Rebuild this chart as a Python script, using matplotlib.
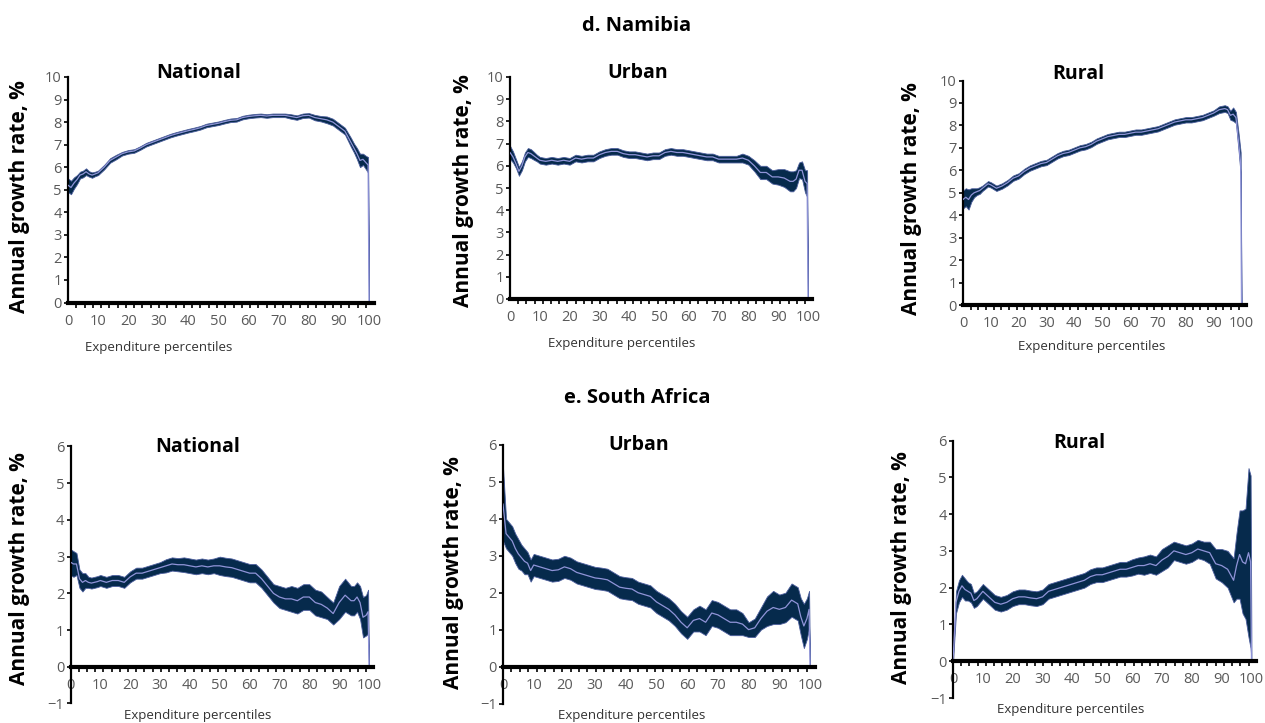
import matplotlib
matplotlib.use('Agg')
import matplotlib.pyplot as plt
import numpy as np
from matplotlib.ticker import MultipleLocator, FixedLocator

plt.rcParams['font.family'] = ['Open Sans', 'DejaVu Sans']

W, H = 1265, 723

# ---------------- data ----------------
PCT = [0, 1, 2, 3, 4, 5, 6, 7, 8, 9,
       10, 12, 14, 16, 18, 20, 22, 24, 26, 28,
       30, 32, 34, 36, 38, 40, 42, 44, 46, 48,
       50, 52, 54, 56, 58, 60, 62, 64, 66, 68,
       70, 72, 74, 76, 78, 80, 82, 84, 86, 88,
       90, 92, 94, 95, 96, 97, 98, 99, 99.7, 100]

# d. Namibia
na_nat_mean = [5.2, 5.1, 5.3, 5.45, 5.65, 5.7, 5.8, 5.7, 5.65, 5.7,
               5.75, 6.0, 6.3, 6.45, 6.6, 6.68, 6.72, 6.85, 7.0, 7.1,
               7.2, 7.3, 7.4, 7.48, 7.55, 7.62, 7.68, 7.75, 7.85, 7.9,
               7.95, 8.02, 8.08, 8.1, 8.2, 8.25, 8.28, 8.3, 8.27, 8.3,
               8.3, 8.3, 8.25, 8.2, 8.28, 8.3, 8.2, 8.15, 8.1, 8.0,
               7.8, 7.6, 7.1, 6.85, 6.6, 6.3, 6.35, 6.2, 6.1, 0]
na_nat_ci = [0.3, 0.3, 0.25, 0.2, 0.15, 0.15, 0.15, 0.12, 0.12, 0.1,
             0.1, 0.1, 0.1, 0.1, 0.08, 0.08, 0.08, 0.08, 0.08, 0.08,
             0.08, 0.08, 0.08, 0.08, 0.08, 0.08, 0.08, 0.08, 0.08, 0.08,
             0.08, 0.08, 0.08, 0.08, 0.08, 0.08, 0.08, 0.08, 0.08, 0.08,
             0.08, 0.08, 0.1, 0.1, 0.1, 0.1, 0.12, 0.12, 0.15, 0.15,
             0.15, 0.15, 0.2, 0.2, 0.25, 0.3, 0.25, 0.3, 0.35, 0]

na_urb_mean = [6.6, 6.4, 6.1, 5.75, 6.0, 6.4, 6.6, 6.55, 6.45, 6.35,
               6.25, 6.2, 6.25, 6.2, 6.25, 6.2, 6.35, 6.3, 6.35, 6.35,
               6.5, 6.6, 6.65, 6.65, 6.55, 6.5, 6.5, 6.45, 6.4, 6.45,
               6.45, 6.6, 6.65, 6.6, 6.6, 6.55, 6.5, 6.45, 6.4, 6.4,
               6.3, 6.3, 6.3, 6.3, 6.35, 6.25, 6.0, 5.7, 5.7, 5.5,
               5.5, 5.45, 5.3, 5.3, 5.4, 5.8, 5.8, 5.3, 5.2, 0]
na_urb_ci = [0.3, 0.25, 0.2, 0.2, 0.2, 0.2, 0.2, 0.2, 0.18, 0.15,
             0.15, 0.15, 0.15, 0.15, 0.15, 0.15, 0.15, 0.15, 0.15, 0.15,
             0.15, 0.15, 0.15, 0.15, 0.15, 0.15, 0.15, 0.15, 0.15, 0.15,
             0.15, 0.15, 0.15, 0.15, 0.15, 0.15, 0.15, 0.15, 0.15, 0.15,
             0.15, 0.15, 0.15, 0.15, 0.2, 0.2, 0.25, 0.3, 0.3, 0.3,
             0.35, 0.4, 0.45, 0.45, 0.4, 0.35, 0.4, 0.5, 0.6, 0]

na_rur_mean = [4.7, 4.8, 4.7, 4.9, 5.0, 5.05, 5.1, 5.2, 5.3, 5.4,
               5.35, 5.2, 5.3, 5.45, 5.65, 5.75, 5.95, 6.1, 6.2, 6.3,
               6.35, 6.5, 6.65, 6.75, 6.8, 6.9, 7.0, 7.05, 7.15, 7.3,
               7.4, 7.5, 7.55, 7.6, 7.6, 7.65, 7.7, 7.7, 7.75, 7.8,
               7.85, 7.95, 8.05, 8.15, 8.2, 8.25, 8.25, 8.3, 8.35, 8.45,
               8.55, 8.7, 8.75, 8.7, 8.45, 8.5, 8.35, 7.2, 6.3, 0]
na_rur_ci = [0.4, 0.4, 0.45, 0.3, 0.2, 0.15, 0.15, 0.12, 0.12, 0.12,
             0.12, 0.12, 0.12, 0.12, 0.12, 0.12, 0.12, 0.12, 0.12, 0.12,
             0.12, 0.12, 0.12, 0.12, 0.12, 0.12, 0.12, 0.12, 0.12, 0.12,
             0.12, 0.12, 0.12, 0.12, 0.12, 0.12, 0.12, 0.12, 0.12, 0.12,
             0.12, 0.12, 0.12, 0.12, 0.12, 0.12, 0.12, 0.12, 0.12, 0.12,
             0.12, 0.15, 0.15, 0.15, 0.2, 0.3, 0.25, 0.4, 0.5, 0]

# e. South Africa
sa_nat_mean = [2.85, 2.8, 2.8, 2.4, 2.3, 2.35, 2.3, 2.28, 2.3, 2.32,
               2.35, 2.3, 2.35, 2.35, 2.3, 2.45, 2.55, 2.55, 2.6, 2.65,
               2.7, 2.75, 2.8, 2.78, 2.78, 2.75, 2.72, 2.75, 2.72, 2.75,
               2.75, 2.72, 2.7, 2.65, 2.6, 2.55, 2.55, 2.4, 2.2, 2.0,
               1.9, 1.85, 1.85, 1.8, 1.9, 1.9, 1.75, 1.7, 1.6, 1.45,
               1.75, 1.95, 1.8, 1.8, 1.9, 1.75, 1.35, 1.4, 1.5, 0]
sa_nat_ci = [0.35, 0.35, 0.3, 0.25, 0.25, 0.2, 0.15, 0.15, 0.15, 0.15,
             0.15, 0.15, 0.15, 0.15, 0.15, 0.15, 0.15, 0.15, 0.15, 0.15,
             0.15, 0.18, 0.18, 0.18, 0.2, 0.2, 0.2, 0.2, 0.2, 0.2,
             0.25, 0.25, 0.25, 0.25, 0.25, 0.25, 0.25, 0.25, 0.25, 0.25,
             0.3, 0.3, 0.35, 0.35, 0.35, 0.35, 0.35, 0.35, 0.3, 0.3,
             0.45, 0.45, 0.4, 0.4, 0.4, 0.45, 0.55, 0.55, 0.6, 0]

sa_urb_mean = [4.4, 3.6, 3.5, 3.4, 3.2, 3.05, 2.95, 2.85, 2.8, 2.6,
               2.75, 2.7, 2.65, 2.6, 2.62, 2.7, 2.65, 2.55, 2.5, 2.45,
               2.4, 2.38, 2.35, 2.25, 2.15, 2.12, 2.1, 2.0, 1.95, 1.9,
               1.75, 1.65, 1.55, 1.4, 1.2, 1.05, 1.25, 1.3, 1.2, 1.45,
               1.4, 1.3, 1.2, 1.2, 1.15, 1.0, 1.05, 1.3, 1.5, 1.6,
               1.55, 1.6, 1.8, 1.75, 1.7, 1.35, 1.1, 1.3, 1.55, 0]
sa_urb_ci = [1.0, 0.4, 0.4, 0.4, 0.4, 0.4, 0.35, 0.35, 0.3, 0.3,
             0.3, 0.3, 0.3, 0.3, 0.3, 0.3, 0.3, 0.3, 0.3, 0.3,
             0.3, 0.3, 0.3, 0.3, 0.3, 0.3, 0.3, 0.3, 0.3, 0.3,
             0.3, 0.3, 0.3, 0.3, 0.3, 0.3, 0.3, 0.35, 0.35, 0.35,
             0.35, 0.35, 0.35, 0.35, 0.3, 0.2, 0.25, 0.3, 0.4, 0.45,
             0.4, 0.4, 0.45, 0.45, 0.45, 0.5, 0.6, 0.55, 0.5, 0]

sa_rur_mean = [0, 1.6, 1.9, 2.05, 1.95, 1.9, 1.85, 1.65, 1.7, 1.8,
               1.9, 1.75, 1.6, 1.55, 1.6, 1.7, 1.75, 1.75, 1.72, 1.7,
               1.75, 1.9, 1.95, 2.0, 2.05, 2.1, 2.15, 2.2, 2.3, 2.35,
               2.35, 2.4, 2.45, 2.5, 2.5, 2.55, 2.6, 2.6, 2.65, 2.6,
               2.75, 2.85, 3.0, 2.95, 2.9, 2.95, 3.05, 3.0, 2.95, 2.65,
               2.6, 2.5, 2.2, 2.6, 2.9, 2.7, 2.65, 2.95, 2.7, 0]
sa_rur_ci = [0, 0.3, 0.3, 0.3, 0.3, 0.25, 0.25, 0.2, 0.2, 0.2,
             0.2, 0.2, 0.2, 0.2, 0.2, 0.2, 0.2, 0.2, 0.2, 0.2,
             0.2, 0.2, 0.2, 0.2, 0.2, 0.2, 0.2, 0.2, 0.2, 0.2,
             0.2, 0.2, 0.2, 0.2, 0.2, 0.22, 0.22, 0.25, 0.25, 0.25,
             0.3, 0.3, 0.25, 0.25, 0.25, 0.25, 0.25, 0.25, 0.3, 0.4,
             0.45, 0.5, 0.6, 0.9, 1.2, 1.4, 1.5, 2.3, 2.35, 0]

SECTION_TITLES = ['d. Namibia', 'e. South Africa']
PANEL_TITLES = ['National', 'Urban', 'Rural']
YLABEL = 'Annual growth rate, %'
XLABEL = 'Expenditure percentiles'
X_TICKS = list(range(0, 101, 10))
NA_YTICKS = list(range(0, 11))
SA_YTICKS = list(range(-1, 7))

# ---------------- styling / layout ----------------
BAND = '#062a4c'
EDGE = '#4d5f9e'
LINE = '#9094d8'
TICKC = '#595959'
XMAX = 101.5

# (x of 0, x of 100, y of top, y of bottom) in pixels, plus y-limits
layout = [
    (68, 369, 77, 302.5, 0, 10),
    (510, 808, 77, 299, 0, 10),
    (963, 1241.5, 80.5, 305, 0, 10),
    (70.5, 369, 446.5, 703.5, -1, 6),
    (503, 810, 445, 703.5, -1, 6),
    (953, 1251.5, 440.5, 698, -1, 6),
]
title_pos = [(199, 73), (638, 73), (1078, 74), (198, 447), (639, 445), (1079, 443)]
ylab_pos = [(20, 197), (463, 191), (912, 199), (20, 569), (453, 573), (902, 568)]
xlab_pos = [(159, 347), (622, 343), (1092, 346), (198, 715), (632, 715), (1071, 710)]
section_pos = [(637, 26), (637, 398)]

series = [(na_nat_mean, na_nat_ci), (na_urb_mean, na_urb_ci), (na_rur_mean, na_rur_ci),
          (sa_nat_mean, sa_nat_ci), (sa_urb_mean, sa_urb_ci), (sa_rur_mean, sa_rur_ci)]

fig = plt.figure(figsize=(W / 100, H / 100), dpi=100)


def fx(px):
    return px / W


def fy(py):
    return 1 - py / H


x = np.array(PCT, dtype=float)
for i, ((mean, ci), (x0, x100, yt, yb, ymin, ymax)) in enumerate(zip(series, layout)):
    width_px = (x100 - x0) * XMAX / 100.0
    ax = fig.add_axes([fx(x0), fy(yb), width_px / W, (yb - yt) / H])
    m = np.array(mean)
    c = np.array(ci)
    ax.fill_between(x, m - c, m + c, facecolor=BAND, edgecolor=EDGE,
                    linewidth=0.6, zorder=2)
    ax.plot(x, m, color=LINE, lw=0.9, zorder=3)
    ax.set_xlim(0, XMAX)
    ax.set_ylim(ymin, ymax)
    for s in ['top', 'right']:
        ax.spines[s].set_visible(False)
    ax.spines['left'].set_linewidth(1.6)
    ax.spines['bottom'].set_linewidth(3.0)
    ax.spines['bottom'].set_zorder(4)
    if ymin < 0:
        ax.spines['bottom'].set_position(('data', 0))
    ax.yaxis.set_major_locator(FixedLocator(SA_YTICKS if ymin < 0 else NA_YTICKS))
    ax.xaxis.set_major_locator(FixedLocator(X_TICKS))
    ax.xaxis.set_minor_locator(MultipleLocator(2.75))
    ax.tick_params(axis='y', which='major', direction='out', length=3, width=1.2,
                   color='black', labelcolor=TICKC, labelsize=10.5, pad=1.5)
    ax.tick_params(axis='x', which='major', direction='out', length=0,
                   labelcolor=TICKC, labelsize=10.5, pad=8)
    ax.tick_params(axis='x', which='minor', direction='out', length=3.5, width=1.2,
                   color='black')
    ax.set_facecolor('none')

    tx, ty = title_pos[i]
    fig.text(fx(tx), fy(ty), PANEL_TITLES[i % 3], ha='center', va='center',
             fontsize=14, fontweight='bold', color='black')
    lx, ly = ylab_pos[i]
    fig.text(fx(lx), fy(ly), YLABEL, ha='center', va='center', rotation=90,
             fontsize=15, fontweight='bold', color='black')
    xx, xy = xlab_pos[i]
    fig.text(fx(xx), fy(xy), XLABEL, ha='center', va='center',
             fontsize=9.5, color='#333333')

for (sx, sy), t in zip(section_pos, SECTION_TITLES):
    fig.text(fx(sx), fy(sy), t, ha='center', va='center', fontsize=14.5,
             fontweight='bold', color='black')

fig.savefig('out.png', dpi=100)
